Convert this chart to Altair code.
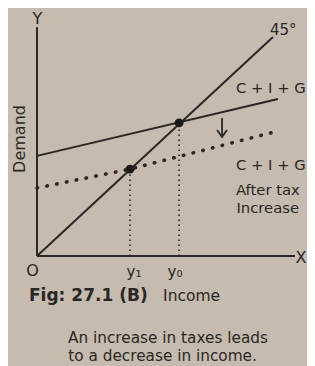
import altair as alt
import pandas as pd

# ---- values (income on x, demand on y; arbitrary units) ----
line45_income = [0, 100]
line45_demand = [0, 99.5]

cig_income = [0, 102.1]
cig_demand = [45.5, 71.4]

cig_tax_income = [0, 39.4, 102.1]
cig_tax_demand = [30.9, 39.5, 56.8]

eq_labels = ["y₁", "y₀"]
eq_income = [39.4, 60.2]
eq_demand = [39.5, 60.5]

axis_y_top = 104.0
axis_x_end = 109.3

# downward shift arrow (shaft + head)
arrow_part = ["shaft", "shaft", "head", "head", "head"]
arrow_order = [0, 1, 0, 1, 2]
arrow_income = [78.4, 78.4, 76.3, 78.4, 80.5]
arrow_demand = [62.7, 54.1, 57.3, 54.1, 57.3]

# text labels
axis_labels = ["Y", "O", "X"]
axis_label_income = [0.2, -1.9, 111.9]
axis_label_demand = [107.9, -7.0, -1.1]

curve_labels = ["C + I + G", "C + I + G", "After tax", "Increase"]
curve_label_income = [84.3, 84.3, 84.3, 84.5]
curve_label_demand = [74.1, 39.1, 27.7, 19.5]

deg_label = ["45°"]
deg_income = [98.7]
deg_demand = [100.5]

tick_label_income = [41.1, 58.5]
tick_label_demand = [-9.5, -9.5]

xtitle = ["Income"]
xtitle_income = [65.5]
xtitle_demand = [-18.2]

ytitle = ["Demand"]
ytitle_income = [-7.2]
ytitle_demand = [53.2]

fig_label = ["Fig: 27.1 (B)"]
fig_income = [-3.4]
fig_demand = [-18.4]

caption = ["An increase in taxes leads", "to a decrease in income."]
caption_income = [55.5, 53.2]
caption_demand = [-37.5, -45.5]

# ---- chart ----
W, H = 299, 358
INK = "#2b2724"
BG = "#c5bbae"
FONT = "DejaVu Sans"

xs = alt.Scale(domain=[-12.288, 114.407], nice=False, zero=False)
ys = alt.Scale(domain=[-50.0, 112.727], nice=False, zero=False)


def X(f="u"):
    return alt.X(f"{f}:Q", scale=xs, axis=None)


def Y(f="v"):
    return alt.Y(f"{f}:Q", scale=ys, axis=None)


def df(us, vs, **extra):
    d = {"u": us, "v": vs}
    d.update(extra)
    return pd.DataFrame(d)


layers = []

# axes
layers.append(
    alt.Chart(pd.DataFrame({"u": [0], "v": [0], "v2": [axis_y_top]}))
    .mark_rule(color=INK, strokeWidth=2)
    .encode(x=X(), y=Y(), y2="v2:Q")
)
layers.append(
    alt.Chart(pd.DataFrame({"u": [0], "u2": [axis_x_end], "v": [0]}))
    .mark_rule(color=INK, strokeWidth=2)
    .encode(x=X(), x2="u2:Q", y=Y())
)

# vertical dotted guides
layers.append(
    alt.Chart(pd.DataFrame({"u": eq_income, "v": [0, 0], "v2": eq_demand}))
    .mark_rule(color=INK, strokeWidth=1.6, strokeDash=[1.6, 3.4])
    .encode(x=X(), y=Y(), y2="v2:Q")
)

# 45 degree line
layers.append(
    alt.Chart(df(line45_income, line45_demand, o=[0, 1]))
    .mark_line(color=INK, strokeWidth=2)
    .encode(x=X(), y=Y(), order="o:Q")
)

# C + I + G
layers.append(
    alt.Chart(df(cig_income, cig_demand, o=[0, 1]))
    .mark_line(color=INK, strokeWidth=2)
    .encode(x=X(), y=Y(), order="o:Q")
)

# C + I + G after tax increase (dotted)
layers.append(
    alt.Chart(df(cig_tax_income, cig_tax_demand, o=[0, 1, 2]))
    .mark_line(color=INK, strokeWidth=3.6, strokeDash=[0.5, 9.5], strokeCap="round")
    .encode(x=X(), y=Y(), order="o:Q")
)

# arrow
layers.append(
    alt.Chart(df(arrow_income, arrow_demand, part=arrow_part, o=arrow_order))
    .mark_line(color=INK, strokeWidth=1.8)
    .encode(x=X(), y=Y(), detail="part:N", order="o:Q")
)

# equilibrium points
layers.append(
    alt.Chart(df(eq_income, eq_demand))
    .mark_point(filled=True, color="#1c1917", size=80, opacity=1)
    .encode(x=X(), y=Y())
)


def text_layer(labels, us, vs, **kw):
    base = dict(font=FONT, color=INK)
    base.update(kw)
    return (
        alt.Chart(df(us, vs, t=labels))
        .mark_text(**base)
        .encode(x=X(), y=Y(), text="t:N")
    )


layers.append(text_layer(axis_labels, axis_label_income, axis_label_demand,
                         fontSize=16, align="center", baseline="middle"))
layers.append(text_layer(curve_labels, curve_label_income, curve_label_demand,
                         fontSize=14.8, align="left", baseline="alphabetic"))
layers.append(text_layer(deg_label, deg_income, deg_demand,
                         fontSize=15, align="left", baseline="alphabetic"))
layers.append(text_layer(eq_labels, tick_label_income, tick_label_demand,
                         fontSize=15, align="center", baseline="alphabetic"))
layers.append(text_layer(xtitle, xtitle_income, xtitle_demand,
                         fontSize=15.5, align="center", baseline="middle"))
layers.append(text_layer(ytitle, ytitle_income, ytitle_demand,
                         fontSize=16, align="center", baseline="middle", angle=270))
layers.append(text_layer(fig_label, fig_income, fig_demand,
                         fontSize=17, fontWeight="bold", align="left", baseline="middle"))
layers.append(text_layer(caption, caption_income, caption_demand,
                         fontSize=15.3, align="center", baseline="middle"))

chart = (
    alt.layer(*layers)
    .properties(width=W, height=H, padding=0,
                autosize=alt.AutoSizeParams(type="none"), background=BG)
    .configure_view(stroke=None)
)

chart.save("out.html", embed_options={"renderer": "svg", "actions": False})
